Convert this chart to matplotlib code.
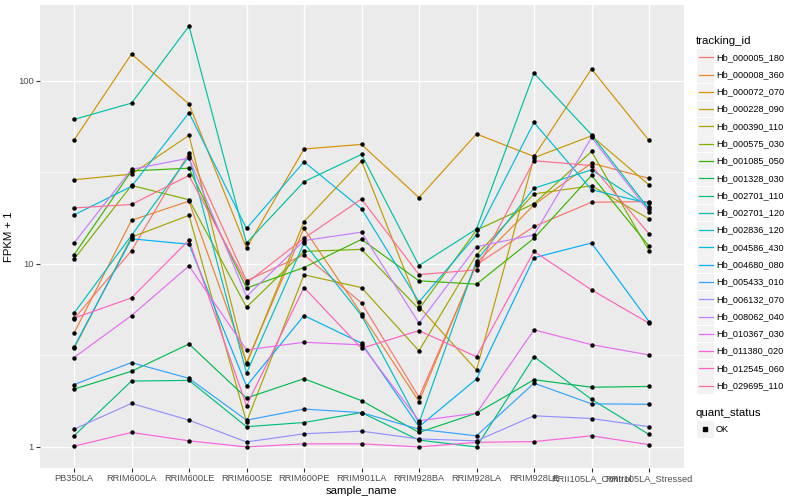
import numpy as np
import matplotlib
matplotlib.use("Agg")
import matplotlib.pyplot as plt
from matplotlib.patches import Rectangle
from matplotlib.lines import Line2D

plt.rcParams['font.family'] = ['Liberation Sans', 'DejaVu Sans']

samples = ["PB350LA", "RRIM600LA", "RRIM600LE", "RRIM600SE", "RRIM600PE", "RRIM901LA",
           "RRIM928BA", "RRIM928LA", "RRIM928LE", "RRII105LA_Control", "RRII105LA_Stressed"]

tracking_ids = ["Hb_000005_180", "Hb_000008_360", "Hb_000072_070", "Hb_000228_090", "Hb_000390_110",
                "Hb_000575_030", "Hb_001085_050", "Hb_001328_030", "Hb_002701_110", "Hb_002701_120",
                "Hb_002836_120", "Hb_004586_430", "Hb_004680_080", "Hb_005433_010", "Hb_006132_070",
                "Hb_008062_040", "Hb_010367_030", "Hb_011380_020", "Hb_012545_060", "Hb_029695_110"]

colors = ["#F8766D", "#EA8331", "#D89000", "#C09B00", "#A3A500", "#7CAE00", "#39B600", "#00BB4E",
          "#00BF7D", "#00C1A3", "#00BFC4", "#00BAE0", "#00B0F6", "#35A2FF", "#9590FF", "#C77CFF",
          "#E76BF3", "#FA62DB", "#FF62BC", "#FF6C91"]

# FPKM + 1 values per tracking_id, in sample order
hb_000005_180 = [5.0, 11.8, 40.4, 8.1, 11.2, 6.12, 1.87, 9.9, 16.0, 21.7, 21.9]
hb_000008_360 = [4.18, 17.3, 22.0, 2.89, 15.6, 5.33, 1.77, 10.1, 21.0, 35.5, 29.3]
hb_000072_070 = [47.4, 140, 74.6, 12.2, 42.4, 44.9, 23.0, 51.2, 38.6, 116, 47.2]
hb_000228_090 = [28.8, 30.9, 50.3, 2.83, 17.0, 36.5, 5.84, 2.63, 38.0, 50.0, 27.0]
hb_000390_110 = [3.45, 14.0, 18.4, 1.37, 8.71, 7.42, 3.35, 11.2, 24.1, 26.7, 17.6]
hb_000575_030 = [10.6, 26.8, 22.4, 5.80, 11.7, 12.0, 5.66, 15.3, 21.3, 41.1, 11.8]
hb_001085_050 = [11.2, 32.2, 33.3, 7.37, 9.55, 13.6, 8.08, 7.75, 13.8, 30.4, 12.5]
hb_001328_030 = [2.07, 2.59, 3.65, 1.85, 2.36, 1.79, 1.20, 1.53, 2.33, 2.12, 2.14]
hb_002701_110 = [1.15, 2.29, 2.31, 1.29, 1.36, 1.54, 1.09, 1.0, 3.11, 1.82, 1.17]
hb_002701_120 = [61.5, 75.5, 199, 13.0, 28.1, 39.6, 9.79, 15.5, 110, 50.7, 19.9]
hb_002836_120 = [5.38, 14.3, 38.6, 2.53, 13.0, 5.22, 1.35, 10.4, 25.9, 32.6, 20.4]
hb_004586_430 = [18.5, 26.5, 66.8, 15.6, 36.1, 20.0, 6.20, 14.4, 59.2, 25.4, 21.4]
hb_004680_080 = [3.51, 13.7, 12.8, 2.15, 5.22, 3.69, 1.29, 2.35, 10.8, 13.0, 4.84]
hb_005433_010 = [2.19, 2.89, 2.37, 1.40, 1.61, 1.54, 1.25, 1.15, 2.23, 1.72, 1.71]
hb_006132_070 = [1.25, 1.73, 1.40, 1.065, 1.18, 1.22, 1.106, 1.08, 1.48, 1.43, 1.29]
hb_008062_040 = [13.0, 32.8, 37.8, 6.63, 13.4, 14.9, 4.74, 12.4, 14.4, 49.0, 19.3]
hb_010367_030 = [3.08, 5.22, 9.75, 3.39, 3.73, 3.61, 1.39, 1.53, 4.36, 3.62, 3.18]
hb_011380_020 = [1.01, 1.20, 1.08, 1.00, 1.04, 1.04, 1.00, 1.06, 1.07, 1.15, 1.03]
hb_012545_060 = [5.05, 6.52, 13.5, 1.68, 7.42, 3.46, 4.32, 3.11, 11.7, 7.21, 4.74]
hb_029695_110 = [20.2, 21.1, 30.4, 7.85, 13.8, 22.6, 8.74, 9.27, 36.6, 34.4, 14.6]

series = [hb_000005_180, hb_000008_360, hb_000072_070, hb_000228_090, hb_000390_110,
          hb_000575_030, hb_001085_050, hb_001328_030, hb_002701_110, hb_002701_120,
          hb_002836_120, hb_004586_430, hb_004680_080, hb_005433_010, hb_006132_070,
          hb_008062_040, hb_010367_030, hb_011380_020, hb_012545_060, hb_029695_110]

W, H = 800, 500
fig = plt.figure(figsize=(W / 100, H / 100), dpi=100)
fig.patch.set_facecolor("white")

L, R, T, B = 39.5, 683.5, 5, 468
ax = fig.add_axes([L / W, 1 - B / H, (R - L) / W, (B - T) / H])
ax.set_facecolor("#EBEBEB")
for s in ax.spines.values():
    s.set_visible(False)

x = np.arange(len(samples))
for vals, c in zip(series, colors):
    ax.plot(x, vals, color=c, lw=0.85, zorder=3, solid_capstyle="butt")
for vals in series:
    ax.plot(x, vals, linestyle="none", marker="o", ms=3.2, color="black", mec="black", mew=0, zorder=4)

ax.set_yscale("log")
allv = np.concatenate([np.asarray(v, float) for v in series])
lo, hi = np.log10(allv.min()), np.log10(allv.max())
pad = 0.05 * (hi - lo)
ax.set_ylim(10 ** (lo - pad), 10 ** (hi + pad))
ax.set_xlim(-0.6, len(samples) - 1 + 0.6)

ax.set_yticks([1, 10, 100])
ax.set_yticklabels(["1", "10", "100"])
ax.set_yticks([10 ** 0.5, 10 ** 1.5], minor=True)
ax.yaxis.set_minor_formatter(matplotlib.ticker.NullFormatter())
ax.set_xticks(x)
ax.set_xticklabels(samples)

ax.grid(True, which="major", color="white", lw=1.0, zorder=0)
ax.grid(True, which="minor", axis="y", color="white", lw=0.5, zorder=0)
ax.set_axisbelow(True)
ax.tick_params(axis="both", which="major", length=2.8, width=0.8, color="#333333",
               labelcolor="#4D4D4D", labelsize=6.7, pad=1.5)
ax.tick_params(axis="y", which="minor", length=0)

ax.set_xlabel("sample_name", fontsize=8.2, color="black", labelpad=2)
ax.set_ylabel("FPKM + 1", fontsize=8.2, color="black", labelpad=3)

# legend (drawn manually, ggplot-like)
def fx(px):
    return px / W

def fy(py):
    return 1 - py / H

fig.text(fx(696), fy(40.7), "tracking_id", fontsize=8.2, va="center", ha="left")
step = 17.28
for i, (tid, c) in enumerate(zip(tracking_ids, colors)):
    yc = 57.3 + step * i
    fig.add_artist(Rectangle((fx(697), fy(yc + 8.2)), 16.8 / W, 16.4 / H,
                             transform=fig.transFigure, facecolor="#F2F2F2", edgecolor="none"))
    fig.add_artist(Line2D([fx(698.5), fx(712.5)], [fy(yc), fy(yc)], transform=fig.transFigure,
                          color=c, lw=0.9))
    fig.text(fx(716.5), fy(yc), tid, fontsize=6.6, va="center", ha="left")

fig.text(fx(696), fy(412.7), "quant_status", fontsize=8.2, va="center", ha="left")
yc = 429.3
fig.add_artist(Rectangle((fx(697), fy(yc + 8.2)), 16.8 / W, 16.4 / H,
                         transform=fig.transFigure, facecolor="#F2F2F2", edgecolor="none"))
fig.add_artist(Line2D([fx(705.4)], [fy(yc)], transform=fig.transFigure, marker="s",
                      ms=2.6, color="black", linestyle="none"))
fig.text(fx(716), fy(yc), "OK", fontsize=6.6, va="center", ha="left")

fig.savefig("out.png", dpi=100, facecolor="white")
